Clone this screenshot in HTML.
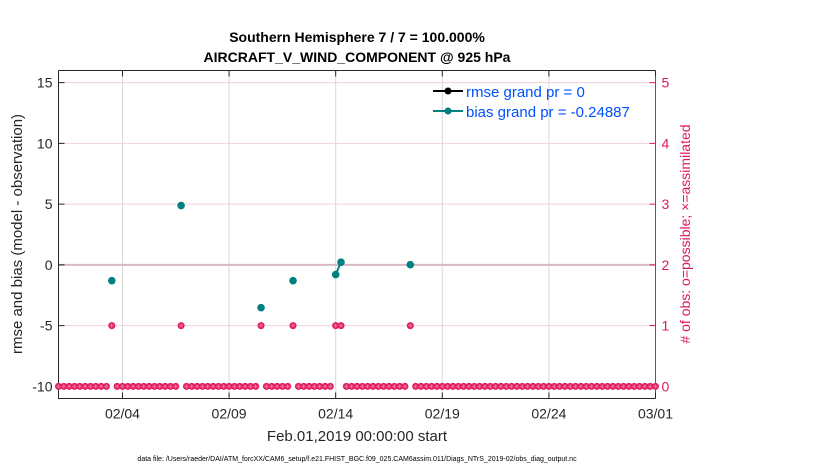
<!DOCTYPE html>
<html><head><meta charset="utf-8"><style>
body{margin:0;background:#fff;width:830px;height:470px;overflow:hidden}
svg{font-family:"Liberation Sans",Arial,sans-serif}
</style></head><body>
<svg id="chart" width="830" height="470" xmlns="http://www.w3.org/2000/svg"></svg>
<script>
const xTickDays=[3,8,13,18,23,28];
const xTickLabels=["02/04","02/09","02/14","02/19","02/24","03/01"];
const yTicks=[-10,-5,0,5,10,15];
const rTicks=[0,1,2,3,4,5];
const binDays=0.25;
const counts=[0,0,0,0,0,0,0,0,0,0,1,0,0,0,0,0,0,0,0,0,0,0,0,1,0,0,0,0,0,0,0,0,0,0,0,0,0,0,1,0,0,0,0,0,1,0,0,0,0,0,0,0,1,1,0,0,0,0,0,0,0,0,0,0,0,0,1,0,0,0,0,0,0,0,0,0,0,0,0,0,0,0,0,0,0,0,0,0,0,0,0,0,0,0,0,0,0,0,0,0,0,0,0,0,0,0,0,0,0,0,0,0,0];
const biasDays=[2.5,5.75,9.5,11,13,13.25,16.5];
const biasVals=[-1.3,4.88,-3.52,-1.3,-0.8,0.22,0.02];

const svg=document.getElementById('chart');
const NS='http://www.w3.org/2000/svg';
const L=58.5,R=655.5,T=70.5,B=398.5;
const x=d=>L+(d/28)*(R-L);
const y=v=>T+(16-v)/(27)*(B-T);
const yr=c=>y(c*5-10);
function el(t,a,p){const e=document.createElementNS(NS,t);for(const k in a)e.setAttribute(k,a[k]);(p||svg).appendChild(e);return e;}
const pink='#e0195a',teal='#008080';
xTickDays.forEach(d=>{const g=el('line',{x1:x(d),x2:x(d),y1:T,y2:B,stroke:'#d8d8d8','stroke-width':1});
});
rTicks.forEach(c=>{if(c===0)return;const g=el('line',{x1:L,x2:R,y1:yr(c),y2:yr(c),stroke:c===2?'#d8b8c4':'#f3d0dc','stroke-width':c===2?2:1});
});
const ax=el('path',{d:`M${L},${T}H${R}M${L},${T}V${B}H${R}`,stroke:'#262626',fill:'none','stroke-width':1});

const ra=el('line',{x1:R,x2:R,y1:T,y2:B,stroke:pink,'stroke-width':1});

xTickDays.forEach((d,i)=>{el('line',{x1:x(d),x2:x(d),y1:B,y2:B-6,stroke:'#262626'});el('line',{x1:x(d),x2:x(d),y1:T,y2:T+6,stroke:'#262626'});
const t=el('text',{x:x(d),y:B+20,'text-anchor':'middle','font-size':14,fill:'#262626'});t.textContent=xTickLabels[i];
});
yTicks.forEach(v=>{el('line',{x1:L,x2:L+6,y1:y(v),y2:y(v),stroke:'#262626'});
const t=el('text',{x:L-6,y:y(v)+5,'text-anchor':'end','font-size':14,fill:'#262626'});t.textContent=v;
});
rTicks.forEach(c=>{el('line',{x1:R-6,x2:R,y1:yr(c),y2:yr(c),stroke:pink});
const t=el('text',{x:R+6,y:yr(c)+5,'font-size':14,fill:pink});t.textContent=c;
});
counts.forEach((c,i)=>{const cx=x(i*binDays),cy=yr(c);const g=el('g',{});

el('circle',{cx,cy,r:3.5,fill:pink},g);
el('path',{d:`M${cx-2.5},${cy}H${cx+2.5}M${cx},${cy-2.5}V${cy+2.5}M${cx-1.8},${cy-1.8}L${cx+1.8},${cy+1.8}M${cx-1.8},${cy+1.8}L${cx+1.8},${cy-1.8}`,stroke:'#f7a0bc','stroke-width':0.4},g);});
for(let i=1;i<biasDays.length;i++){if(Math.abs(biasDays[i]-biasDays[i-1]-binDays)<1e-6){
const s=el('line',{x1:x(biasDays[i-1]),y1:y(biasVals[i-1]),x2:x(biasDays[i]),y2:y(biasVals[i]),stroke:teal,'stroke-width':2});
}}
biasDays.forEach((d,i)=>{const c=el('circle',{cx:x(d),cy:y(biasVals[i]),r:3.8,fill:teal});
});
</script>
<svg width="830" height="470" style="position:absolute;left:0;top:0" xmlns="http://www.w3.org/2000/svg" font-family="Liberation Sans, Arial, sans-serif">
<text x="357" y="42" text-anchor="middle" font-size="14" font-weight="bold">Southern Hemisphere 7 / 7 = 100.000%</text>
<text x="357" y="62" text-anchor="middle" font-size="14" font-weight="bold">AIRCRAFT_V_WIND_COMPONENT @ 925 hPa</text>
<g>
<line x1="433" y1="91" x2="463" y2="91" stroke="#000" stroke-width="2"/><circle cx="448" cy="91" r="3.5" fill="#000"/>
<text x="466" y="97" font-size="15" fill="#0050ff">rmse grand pr = 0</text>
<line x1="433" y1="111" x2="463" y2="111" stroke="#008080" stroke-width="2"/><circle cx="448" cy="111" r="3.5" fill="#008080"/>
<text x="466" y="117" font-size="15" fill="#0050ff">bias grand pr = -0.24887</text>
</g>
<text transform="translate(22,234) rotate(-90)" text-anchor="middle" font-size="15" fill="#262626">rmse and bias (model - observation)</text>
<text transform="translate(690,234) rotate(-90)" text-anchor="middle" font-size="14" fill="#e0195a"># of obs: o=possible; ×=assimilated</text>
<text x="357" y="441" text-anchor="middle" font-size="15" fill="#262626">Feb.01,2019 00:00:00 start</text>
<text x="357" y="461" text-anchor="middle" font-size="7" fill="#000">data file: /Users/raeder/DAI/ATM_forcXX/CAM6_setup/f.e21.FHIST_BGC.f09_025.CAM6assim.011/Diags_NTrS_2019-02/obs_diag_output.nc</text>
</svg>
</body></html>
